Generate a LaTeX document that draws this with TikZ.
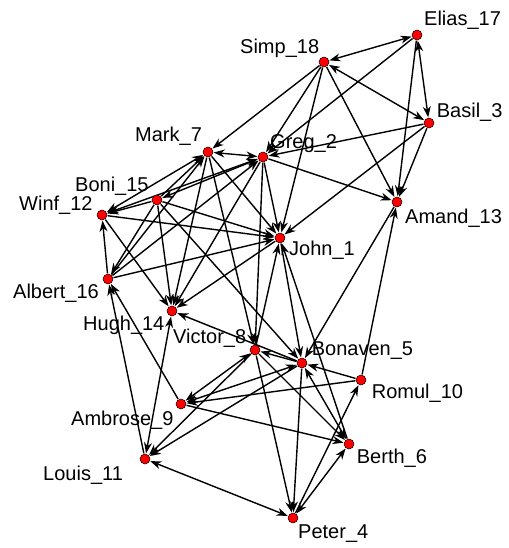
\documentclass[tikz,border=0pt]{standalone}
\usepackage{fontspec}
\setmainfont{Liberation Sans}
\usetikzlibrary{arrows.meta}
\begin{document}
\begin{tikzpicture}[x=1pt,y=-1pt,
  actor/.style={circle,minimum size=11pt,inner sep=0pt},
  dot/.style={fill=red,draw=black,line width=0.5pt},
  lbl/.style={anchor=base west,inner sep=0pt,font=\fontsize{20}{24}\selectfont},
  head/.tip={Stealth[length=11pt,width=8pt,inset=3.5pt]},
  tie/.style={line width=1.4pt,-head},
  mutual/.style={line width=1.4pt,head-head}]
\useasboundingbox (0,0) rectangle (508,548);
% actors
\node[actor] (E17) at (417,35) {};
\node[actor] (S18) at (324,62) {};
\node[actor] (B3) at (429,123) {};
\node[actor] (M7) at (208,152) {};
\node[actor] (G2) at (263,157) {};
\node[actor] (Bo15) at (157,200) {};
\node[actor] (W12) at (102,215) {};
\node[actor] (A13) at (397,202) {};
\node[actor] (J1) at (280,238) {};
\node[actor] (Al16) at (108,279) {};
\node[actor] (H14) at (172,311) {};
\node[actor] (V8) at (255,350) {};
\node[actor] (Bn5) at (302,363) {};
\node[actor] (R10) at (361,380) {};
\node[actor] (Am9) at (181,404) {};
\node[actor] (B6) at (349,444) {};
\node[actor] (L11) at (145,459) {};
\node[actor] (P4) at (293,518) {};
% ties
\draw[mutual] (E17) -- (S18);
\draw[mutual] (E17) -- (B3);
\draw[tie] (E17) -- (A13);
\draw[tie] (E17) -- (G2);
\draw[mutual] (S18) -- (B3);
\draw[tie] (S18) -- (A13);
\draw[tie] (S18) -- (M7);
\draw[tie] (S18) -- (G2);
\draw[tie] (S18) -- (J1);
\draw[tie] (B3) -- (G2);
\draw[tie] (B3) -- (J1);
\draw[tie] (B3) -- (A13);
\draw[tie] (G2) -- (A13);
\draw[tie] (R10) -- (A13);
\draw[tie] (A13) -- (Bn5);
\draw[mutual] (M7) -- (G2);
\draw[mutual] (W12) -- (M7);
\draw[tie] (Bo15) -- (M7);
\draw[tie] (Al16) -- (M7);
\draw[tie] (M7) -- (J1);
\draw[tie] (M7) -- (V8);
\draw[tie] (M7) -- (H14);
\draw[mutual] (G2) -- (W12);
\draw[mutual] (Bo15) -- (G2);
\draw[tie] (Al16) -- (G2);
\draw[tie] (G2) -- (J1);
\draw[tie] (G2) -- (H14);
\draw[tie] (G2) -- (V8);
\draw[tie] (Bo15) -- (W12);
\draw[tie] (Bo15) -- (J1);
\draw[tie] (Bo15) -- (Al16);
\draw[tie] (Bo15) -- (Bn5);
\draw[tie] (W12) -- (J1);
\draw[tie] (Al16) -- (J1);
\draw[tie] (Al16) -- (W12);
\draw[tie] (L11) -- (Al16);
\draw[tie] (J1) -- (H14);
\draw[tie] (W12) -- (H14);
\draw[tie] (Bo15) -- (H14);
\draw[mutual] (H14) -- (L11);
\draw[tie] (Am9) -- (Al16);
\draw[tie] (V8) -- (J1);
\draw[tie] (J1) -- (Bn5);
\draw[tie] (B6) -- (J1);
\draw[mutual] (V8) -- (Am9);
\draw[mutual] (Bn5) -- (Am9);
\draw[tie] (R10) -- (Am9);
\draw[tie] (Am9) -- (B6);
\draw[tie] (V8) -- (L11);
\draw[tie] (Bn5) -- (L11);
\draw[tie] (Bn5) -- (V8);
\draw[tie] (R10) -- (Bn5);
\draw[tie] (Bn5) -- (H14);
\draw[mutual] (Bn5) -- (B6);
\draw[tie] (V8) -- (P4);
\draw[tie] (Bn5) -- (P4);
\draw[mutual] (L11) -- (P4);
\draw[tie] (P4) -- (R10);
\draw[mutual] (P4) -- (B6);
\draw[tie] (V8) -- (B6);
% names
\node[lbl] at (424,26) {Elias\_17};
\node[lbl] at (240,53.3) {Simp\_18};
\node[lbl] at (436.7,118) {Basil\_3};
\node[lbl] at (135,141.7) {Mark\_7};
\node[lbl] at (270,148.3) {Greg\_2};
\node[lbl] at (75,191.7) {Boni\_15};
\node[lbl] at (19,210) {Winf\_12};
\node[lbl] at (405,223) {Amand\_13};
\node[lbl] at (289,255) {John\_1};
\node[lbl] at (13,298) {Albert\_16};
\node[lbl] at (83,330) {Hugh\_14};
\node[lbl] at (173,343.3) {Victor\_8};
\node[lbl] at (311.7,355) {Bonaven\_5};
\node[lbl] at (371.7,398) {Romul\_10};
\node[lbl] at (71,425) {Ambrose\_9};
\node[lbl] at (356.7,463.3) {Berth\_6};
\node[lbl] at (43,480) {Louis\_11};
\node[lbl] at (298,538) {Peter\_4};
% actor dots over the ties
\foreach \n in {E17,S18,B3,M7,G2,Bo15,W12,A13,J1,Al16,H14,V8,Bn5,R10,Am9,B6,L11,P4}
  \draw[dot] (\n) circle (5pt);
\end{tikzpicture}
\end{document}
